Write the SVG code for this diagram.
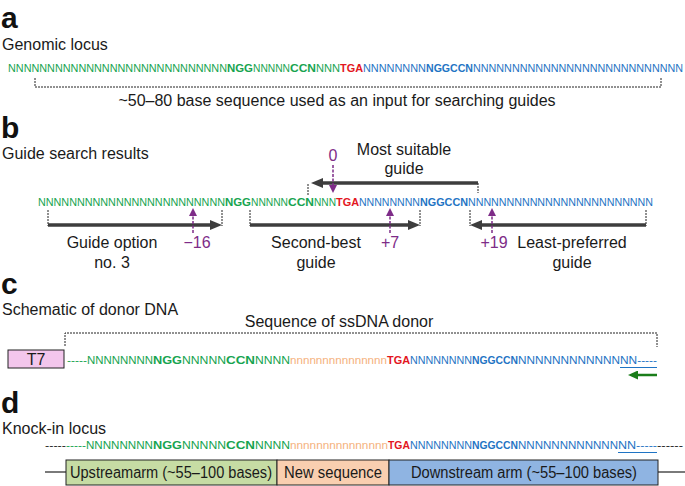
<svg xmlns="http://www.w3.org/2000/svg" width="685" height="486" viewBox="0 0 685 486">
<defs>
<style>
.lab{font-family:"Liberation Sans",Arial,sans-serif;font-size:16px;fill:#1a1a1a}
.mid{text-anchor:middle}
.pan{font-family:"Liberation Sans",Arial,sans-serif;font-size:30px;font-weight:700;fill:#111}
.seq{font-family:"Liberation Sans",Arial,sans-serif;font-size:10.8px}
.sq2{font-family:"Liberation Sans",Arial,sans-serif;font-size:11.5px}
.bd{font-weight:700}
.g{fill:#17a450}.bl{fill:#1f74c4}.r{fill:#e3161e}.o{fill:#f5b27e}.k{fill:#222}
.pu{fill:#7e2c88}
.dash{stroke:#222;stroke-width:1;stroke-dasharray:2 1;fill:none}
.garr{stroke:#3d3d3d;stroke-width:3.5;fill:none}
.parr{stroke:#7e2c88;stroke-width:1.5;stroke-dasharray:3 1.5;fill:none}
.box{stroke:#222;stroke-width:1}
</style>
<marker id="gh" markerUnits="userSpaceOnUse" viewBox="0 0 12 10" markerWidth="12" markerHeight="10" refX="4" refY="5" orient="auto"><path d="M0,0 L12,5 L0,10 z" fill="#3d3d3d"/></marker>
<marker id="ph" markerUnits="userSpaceOnUse" viewBox="0 0 8 8" markerWidth="8" markerHeight="8" refX="2" refY="4" orient="auto"><path d="M0,0 L8,4 L0,8 z" fill="#7e2c88"/></marker>
<marker id="grh" markerUnits="userSpaceOnUse" viewBox="0 0 10 9" markerWidth="10" markerHeight="9" refX="3" refY="4.5" orient="auto"><path d="M0,0 L10,4.5 L0,9 z" fill="#1a7d1a"/></marker>
</defs>

<g id="panel-a">
<text class="pan" x="1" y="28">a</text>
<text class="lab" x="2" y="50">Genomic locus</text>
<text id="seq-a" class="seq" y="72"><tspan class="g" x="8" textLength="219" lengthAdjust="spacingAndGlyphs">NNNNNNNNNNNNNNNNNNNNNNNNNNNN</tspan><tspan class="g bd" x="227" textLength="26" lengthAdjust="spacingAndGlyphs">NGG</tspan><tspan class="g" x="253" textLength="37" lengthAdjust="spacingAndGlyphs">NNNNN</tspan><tspan class="g bd" x="290" textLength="26" lengthAdjust="spacingAndGlyphs">CCN</tspan><tspan class="g" x="316" textLength="24" lengthAdjust="spacingAndGlyphs">NNN</tspan><tspan class="r bd" x="340" textLength="23" lengthAdjust="spacingAndGlyphs">TGA</tspan><tspan class="bl" x="363" textLength="63" lengthAdjust="spacingAndGlyphs">NNNNNNNN</tspan><tspan class="bl bd" x="426" textLength="47" lengthAdjust="spacingAndGlyphs">NGGCCN</tspan><tspan class="bl" x="473" textLength="210" lengthAdjust="spacingAndGlyphs">NNNNNNNNNNNNNNNNNNNNNNNNNNN</tspan></text>
<path class="dash" d="M35,78 V87 H661 V78"/>
<text class="lab mid" x="337" y="106">~50–80 base sequence used as an input for searching guides</text>
</g>

<g id="panel-b">
<text class="pan" x="1" y="138">b</text>
<text class="lab" x="2" y="159">Guide search results</text>
<text id="seq-b" class="seq" y="206"><tspan class="g" x="38" textLength="187" lengthAdjust="spacingAndGlyphs">NNNNNNNNNNNNNNNNNNNNNNNN</tspan><tspan class="g bd" x="225" textLength="26" lengthAdjust="spacingAndGlyphs">NGG</tspan><tspan class="g" x="251" textLength="37" lengthAdjust="spacingAndGlyphs">NNNNN</tspan><tspan class="g bd" x="288" textLength="26" lengthAdjust="spacingAndGlyphs">CCN</tspan><tspan class="g" x="314" textLength="22" lengthAdjust="spacingAndGlyphs">NNN</tspan><tspan class="r bd" x="336" textLength="23" lengthAdjust="spacingAndGlyphs">TGA</tspan><tspan class="bl" x="359" textLength="61" lengthAdjust="spacingAndGlyphs">NNNNNNNN</tspan><tspan class="bl bd" x="420" textLength="48" lengthAdjust="spacingAndGlyphs">NGGCCN</tspan><tspan class="bl" x="468" textLength="185" lengthAdjust="spacingAndGlyphs">NNNNNNNNNNNNNNNNNNNNNNNN</tspan></text>
<g id="guide-most">
<text class="lab mid" x="404" y="155">Most suitable</text>
<text class="lab mid" x="404" y="174">guide</text>
</g>
<g id="guide-3">
<text class="lab mid" x="112" y="248">Guide option</text>
<text class="lab mid" x="112" y="268">no. 3</text>
</g>
<g id="guide-2">
<text class="lab mid" x="316" y="248">Second-best</text>
<text class="lab mid" x="316" y="268">guide</text>
</g>
<g id="guide-least">
<text class="lab mid" x="572" y="248">Least-preferred</text>
<text class="lab mid" x="572" y="268">guide</text>
</g>
<g id="pos-labels">
<text class="lab mid pu" x="333" y="161">0</text>
<text class="lab mid pu" x="197" y="248">−16</text>
<text class="lab mid pu" x="390" y="248">+7</text>
<text class="lab mid pu" x="494" y="248">+19</text>
</g>
</g>

<g id="connectors">
<path class="dash" d="M308,195 V183 M478,183 V193"/>
<line class="garr" x1="478" y1="183" x2="319" y2="183" marker-end="url(#gh)"/>
<path class="dash" d="M48,210 V226 M222,210 V226"/>
<line class="garr" x1="48" y1="225" x2="214" y2="225" marker-end="url(#gh)"/>
<path class="dash" d="M250,210 V226 M420,210 V226"/>
<line class="garr" x1="250" y1="225" x2="412" y2="225" marker-end="url(#gh)"/>
<path class="dash" d="M470,210 V226 M646,210 V226"/>
<line class="garr" x1="646" y1="225" x2="478" y2="225" marker-end="url(#gh)"/>
<line class="parr" x1="333" y1="165" x2="333" y2="187" marker-end="url(#ph)"/>
<line class="parr" x1="193" y1="233" x2="193" y2="214" marker-end="url(#ph)"/>
<line class="parr" x1="390" y1="233" x2="390" y2="214" marker-end="url(#ph)"/>
<line class="parr" x1="492" y1="233" x2="492" y2="214" marker-end="url(#ph)"/>
<path class="dash" d="M65,346 V333 H657 V347"/>
<line x1="657" y1="375" x2="635" y2="375" stroke="#1a7d1a" stroke-width="2.5" marker-end="url(#grh)"/>
</g>

<g id="panel-c">
<text class="pan" x="1" y="294">c</text>
<text class="lab" x="2" y="315">Schematic of donor DNA</text>
<text class="lab mid" x="339" y="327">Sequence of ssDNA donor</text>
<g id="t7">
<rect class="box" x="8" y="350" width="56" height="18" fill="#f3c6ec"/>
<text class="lab mid" x="36" y="365">T7</text>
</g>
<text id="seq-c" class="sq2" y="364"><tspan class="g" x="67" textLength="20" lengthAdjust="spacingAndGlyphs">-----</tspan><tspan class="g" x="87" textLength="66" lengthAdjust="spacingAndGlyphs">NNNNNNNN</tspan><tspan class="g bd" x="153" textLength="29" lengthAdjust="spacingAndGlyphs">NGG</tspan><tspan class="g" x="182" textLength="44" lengthAdjust="spacingAndGlyphs">NNNNN</tspan><tspan class="g bd" x="226" textLength="29" lengthAdjust="spacingAndGlyphs">CCN</tspan><tspan class="g" x="255" textLength="35" lengthAdjust="spacingAndGlyphs">NNNN</tspan><tspan class="o" x="290" textLength="97" lengthAdjust="spacingAndGlyphs">nnnnnnnnnnnnnnn</tspan><tspan class="r bd" x="387" textLength="23" lengthAdjust="spacingAndGlyphs">TGA</tspan><tspan class="bl" x="410" textLength="62" lengthAdjust="spacingAndGlyphs">NNNNNNNN</tspan><tspan class="bl bd" x="472" textLength="46" lengthAdjust="spacingAndGlyphs">NGGCCN</tspan><tspan class="bl" x="518" textLength="102" lengthAdjust="spacingAndGlyphs">NNNNNNNNNNNN</tspan><tspan class="bl" x="620" textLength="37" lengthAdjust="spacingAndGlyphs">NN-----</tspan></text>
<line x1="620" y1="367.5" x2="657" y2="367.5" stroke="#1f74c4" stroke-width="1"/>
</g>

<g id="panel-d">
<text class="pan" x="1" y="413">d</text>
<text class="lab" x="2" y="434">Knock-in locus</text>
<text id="seq-d" class="sq2" y="449"><tspan class="k" x="45" textLength="21" lengthAdjust="spacingAndGlyphs">-----</tspan><tspan class="g" x="66" textLength="20" lengthAdjust="spacingAndGlyphs">-----</tspan><tspan class="g" x="86" textLength="67" lengthAdjust="spacingAndGlyphs">NNNNNNNN</tspan><tspan class="g bd" x="153" textLength="29" lengthAdjust="spacingAndGlyphs">NGG</tspan><tspan class="g" x="182" textLength="44" lengthAdjust="spacingAndGlyphs">NNNNN</tspan><tspan class="g bd" x="226" textLength="29" lengthAdjust="spacingAndGlyphs">CCN</tspan><tspan class="g" x="255" textLength="35" lengthAdjust="spacingAndGlyphs">NNNN</tspan><tspan class="o" x="290" textLength="98" lengthAdjust="spacingAndGlyphs">nnnnnnnnnnnnnnn</tspan><tspan class="r bd" x="388" textLength="22" lengthAdjust="spacingAndGlyphs">TGA</tspan><tspan class="bl" x="410" textLength="62" lengthAdjust="spacingAndGlyphs">NNNNNNNN</tspan><tspan class="bl bd" x="472" textLength="46" lengthAdjust="spacingAndGlyphs">NGGCCN</tspan><tspan class="bl" x="518" textLength="100" lengthAdjust="spacingAndGlyphs">NNNNNNNNNNNN</tspan><tspan class="bl" x="618" textLength="39" lengthAdjust="spacingAndGlyphs">NN-----</tspan><tspan class="k" x="657" textLength="26" lengthAdjust="spacingAndGlyphs">------</tspan></text>
<line x1="618" y1="452.5" x2="657" y2="452.5" stroke="#1f74c4" stroke-width="1"/>
<line x1="45" y1="472" x2="66" y2="472" stroke="#222" stroke-width="1.2"/>
<line x1="658" y1="472" x2="685" y2="472" stroke="#222" stroke-width="1.2"/>
<g id="upstream-arm">
<rect class="box" x="66" y="460" width="211" height="25" fill="#c6dca4"/>
<text class="lab mid" x="171" y="478" textLength="202" lengthAdjust="spacingAndGlyphs">Upstreamarm (~55–100 bases)</text>
</g>
<g id="new-sequence">
<rect class="box" x="277" y="460" width="112" height="25" fill="#f9cfb0"/>
<text class="lab mid" x="333" y="478" textLength="98" lengthAdjust="spacingAndGlyphs">New sequence</text>
</g>
<g id="downstream-arm">
<rect class="box" x="389" y="460" width="269" height="25" fill="#8fb4e2"/>
<text class="lab mid" x="524" y="478" textLength="226" lengthAdjust="spacingAndGlyphs">Downstream arm (~55–100 bases)</text>
</g>
</g>
</svg>
